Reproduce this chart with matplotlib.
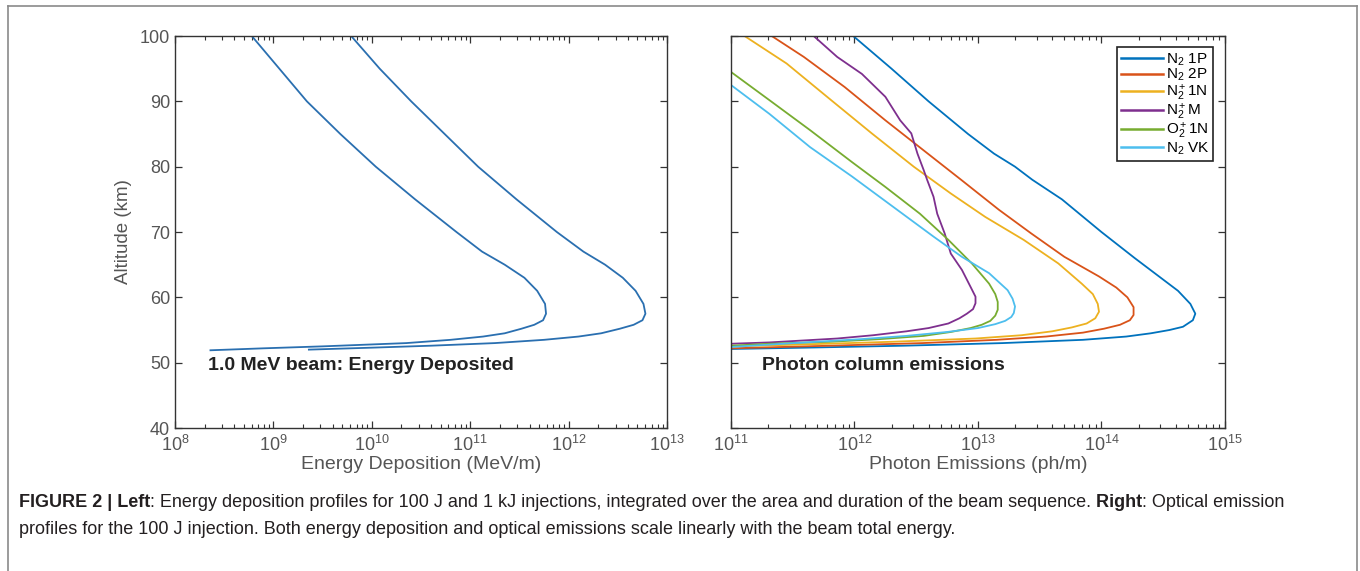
"""Energy deposition and photon column emission profiles (1.0 MeV beam)."""

import matplotlib
matplotlib.use("Agg")
import matplotlib.pyplot as plt
from matplotlib.lines import Line2D
import numpy as np

plt.rcParams["font.family"] = ["Liberation Sans", "DejaVu Sans"]
plt.rcParams["mathtext.fontset"] = "custom"
plt.rcParams["mathtext.rm"] = "Liberation Sans"
plt.rcParams["mathtext.it"] = "Liberation Sans:italic"
plt.rcParams["mathtext.bf"] = "Liberation Sans:bold"

# ---- left panel: energy deposition, log10(MeV/m) vs altitude (km) ----
alt_100J = [100, 95, 90, 85, 80, 75, 70, 67, 65, 63, 61, 59, 57.5, 56.5,
            55.8, 55.2, 54.5, 54.0, 53.5, 53.0, 52.5, 52.2, 51.9]
dep_100J = [8.78, 9.06, 9.34, 9.68, 10.04, 10.44, 10.86, 11.12, 11.35, 11.55,
            11.68, 11.76, 11.77, 11.74, 11.65, 11.52, 11.35, 11.13, 10.80,
            10.35, 9.50, 8.90, 8.36]
alt_1kJ = [100, 95, 90, 85, 80, 75, 70, 67, 65, 63, 61, 59, 57.5, 56.5,
           55.8, 55.2, 54.5, 54.0, 53.5, 53.0, 52.6, 52.3, 52.0]
dep_1kJ = [9.79, 10.08, 10.40, 10.74, 11.08, 11.47, 11.88, 12.15, 12.37,
           12.55, 12.68, 12.76, 12.78, 12.75, 12.66, 12.52, 12.33, 12.10,
           11.75, 11.25, 10.60, 10.00, 9.36]

# ---- right panel: photon emissions, log10(ph/m) vs altitude (km) ----
alt_1p = [100, 95, 90, 85, 82, 80, 78, 75, 70, 66, 63, 61, 59, 57.5, 56.5,
          55.5, 55.0, 54.5, 54.0, 53.5, 53.0, 52.6, 52.3, 52.1]
em_1p = [11.99, 12.30, 12.60, 12.92, 13.13, 13.30, 13.44, 13.68, 14.00,
         14.27, 14.48, 14.62, 14.72, 14.76, 14.74, 14.66, 14.55, 14.40, 14.20,
         13.85, 13.20, 12.40, 11.60, 11.0]
alt_2p = [100, 96.8, 92.2, 87.1, 82.5, 77.9, 73.4, 69.8, 66.2, 63.2, 61.5,
          60.0, 58.5, 57.3, 56.5, 55.8, 55.2, 54.6, 54.0, 53.5, 53.0, 52.6, 52.2]
em_2p = [11.33, 11.59, 11.92, 12.25, 12.56, 12.87, 13.17, 13.43, 13.70, 13.98,
         14.12, 14.21, 14.26, 14.26, 14.23, 14.15, 14.02, 13.85, 13.55, 13.15,
         12.55, 11.80, 11.0]
alt_1n = [100, 95.8, 90.2, 85.1, 80.0, 75.9, 72.3, 68.8, 65.2, 62.1, 60.5,
          59.0, 57.8, 56.8, 56.0, 55.4, 54.8, 54.2, 53.7, 53.2, 52.8, 52.5]
em_1n = [11.11, 11.45, 11.81, 12.14, 12.48, 12.78, 13.06, 13.37, 13.65, 13.84,
         13.93, 13.97, 13.98, 13.95, 13.88, 13.76, 13.60, 13.35, 12.98, 12.30,
         11.60, 11.0]
alt_m = [100, 96.8, 94.2, 90.7, 87.1, 85.1, 82.0, 79.5, 77.9, 75.4, 72.8,
         69.8, 66.7, 64.2, 61.6, 60.1, 59.1, 58.2, 57.5, 56.8, 56.0, 55.3,
         54.8, 54.2, 53.7, 53.1, 52.9]
em_m = [11.67, 11.86, 12.06, 12.25, 12.37, 12.46, 12.51, 12.56, 12.59, 12.64,
        12.67, 12.73, 12.78, 12.87, 12.94, 12.98, 12.98, 12.96, 12.91, 12.85,
        12.76, 12.60, 12.42, 12.15, 11.86, 11.31, 11.0]
alt_o2 = [94.5, 90.2, 85.6, 80.7, 76.9, 72.8, 68.8, 65.2, 62.1, 60.5, 59.3,
          58.1, 57.2, 56.4, 55.8, 55.3, 54.7, 54.1, 53.6, 53.2, 52.9, 52.6]
em_o2 = [11.0, 11.31, 11.64, 11.98, 12.25, 12.53, 12.76, 12.95, 13.09, 13.14,
         13.16, 13.16, 13.14, 13.10, 13.03, 12.94, 12.78, 12.56, 12.20, 11.80,
         11.31, 11.0]
alt_vk = [92.5, 88.1, 83.0, 78.5, 73.9, 69.3, 66.2, 63.7, 61.1, 59.8, 58.6,
          57.6, 57.0, 56.4, 55.9, 55.3, 54.7, 54.1, 53.6, 53.1, 52.7, 52.4]
em_vk = [11.0, 11.31, 11.64, 11.98, 12.31, 12.64, 12.87, 13.09, 13.24, 13.28,
         13.30, 13.29, 13.27, 13.22, 13.14, 13.00, 12.75, 12.42, 12.05, 11.60,
         11.25, 11.0]

labels = [r"N$_2$ 1P", r"N$_2$ 2P", r"N$_2^+$1N", r"N$_2^+$M",
          r"O$_2^+$1N", r"N$_2$ VK"]
colors = ["#0072BD", "#D95319", "#EDB120", "#7E2F8E", "#77AC30", "#4DBEEE"]

TICK_GRAY = "#555555"
SPINE = "#333333"


def style_axes(ax, xlo, xhi):
    ax.set_xscale("log")
    ax.set_xlim(10.0 ** xlo, 10.0 ** xhi)
    ax.set_ylim(40, 100)
    ax.set_yticks(range(40, 101, 10))
    ax.tick_params(which="both", direction="in", top=True, right=True,
                   colors=SPINE, labelcolor=TICK_GRAY, labelsize=13)
    ax.tick_params(axis="x", which="major", pad=5)
    ax.tick_params(which="major", length=5, width=0.9)
    ax.tick_params(which="minor", length=3, width=0.8)
    for s in ax.spines.values():
        s.set_color(SPINE)
        s.set_linewidth(1.0)


fig = plt.figure(figsize=(13.6, 5.71), dpi=100)

ax1 = fig.add_axes([0.1287, 0.2504, 0.3618, 0.6865])
ax1.plot(10.0 ** np.array(dep_100J), alt_100J, color="#2a6fb0", lw=1.3)
ax1.plot(10.0 ** np.array(dep_1kJ), alt_1kJ, color="#2a6fb0", lw=1.3)
style_axes(ax1, 8, 13)
ax1.set_ylabel("Altitude (km)", color=TICK_GRAY, fontsize=13.5, labelpad=6)
ax1.set_xlabel("Energy Deposition (MeV/m)", color=TICK_GRAY, fontsize=14,
               labelpad=1)
ax1.text(10 ** 8.33, 49.5, "1.0 MeV beam: Energy Deposited", fontsize=14,
         fontweight="bold", color="#222222", va="center")

ax2 = fig.add_axes([0.5375, 0.2504, 0.3632, 0.6865])
series = [(em_1p, alt_1p), (em_2p, alt_2p), (em_1n, alt_1n),
          (em_m, alt_m), (em_o2, alt_o2), (em_vk, alt_vk)]
for (em, alt), c, lab in zip(series, colors, labels):
    ax2.plot(10.0 ** np.array(em), alt, color=c, lw=1.3, label=lab)
style_axes(ax2, 11, 15)
ax2.set_yticklabels([])
ax2.set_xlabel("Photon Emissions (ph/m)", color=TICK_GRAY, fontsize=14,
               labelpad=1)
ax2.text(10 ** 11.25, 49.5, "Photon column emissions", fontsize=14,
         fontweight="bold", color="#222222", va="center")
leg = ax2.legend(loc="upper right", fontsize=11, frameon=True, fancybox=False,
                 framealpha=1, edgecolor="#222222", labelspacing=-0.05,
                 handlelength=2.8, handletextpad=0.15, borderpad=0.25,
                 borderaxespad=0.75)
leg.get_frame().set_linewidth(1.2)
for h in leg.get_lines():
    h.set_linewidth(1.8)

# outer frame (open at the bottom, as in the page crop)
frame_kw = dict(color="#8a8a8a", lw=1.2, transform=fig.transFigure)
fig.add_artist(Line2D([8 / 1360, 8 / 1360], [0, 1 - 6 / 571], **frame_kw))
fig.add_artist(Line2D([8 / 1360, 1357 / 1360], [1 - 6 / 571, 1 - 6 / 571], **frame_kw))
fig.add_artist(Line2D([1357 / 1360, 1357 / 1360], [0, 1 - 6 / 571], **frame_kw))

# caption with bold parts
renderer = fig.canvas.get_renderer()


def rich_line(x, y, parts):
    for txt, weight in parts:
        t = fig.text(x, y, txt, fontsize=13.0, fontweight=weight,
                     color="#231f20", va="baseline")
        x += t.get_window_extent(renderer).width / fig.bbox.width


rich_line(19 / 1360, 1 - 507 / 571, [
    ("FIGURE 2 | Left", "bold"),
    (": Energy deposition profiles for 100 J and 1 kJ injections, integrated "
     "over the area and duration of the beam sequence.", "normal"),
    (" Right", "bold"),
    (": Optical emission", "normal"),
])
rich_line(19 / 1360, 1 - 534 / 571, [
    ("profiles for the 100 J injection. Both energy deposition and optical "
     "emissions scale linearly with the beam total energy.", "normal"),
])

fig.savefig("out.png", dpi=100)
